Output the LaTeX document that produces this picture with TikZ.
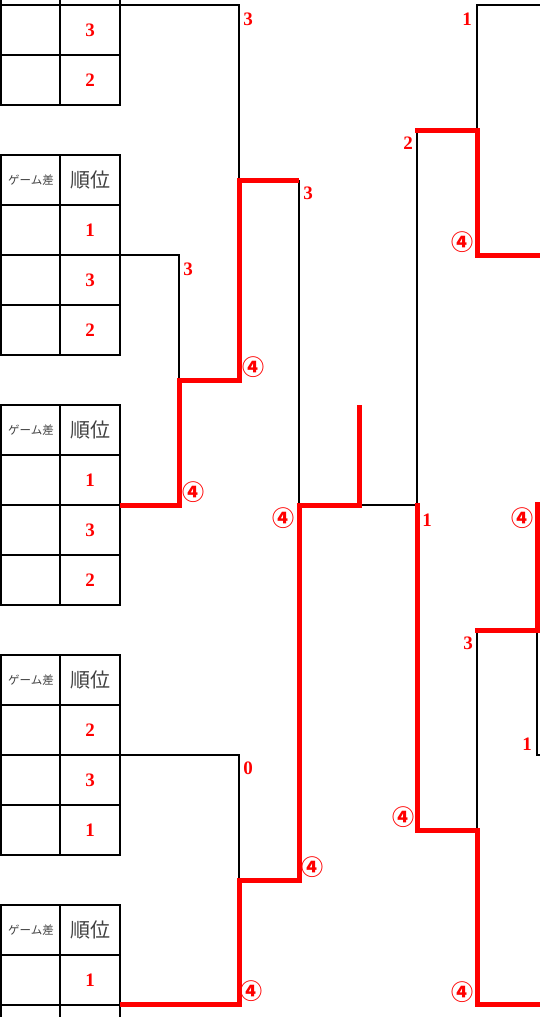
\documentclass[tikz,border=0pt]{standalone}
\usepackage{fontspec}
\setmainfont{Liberation Serif}
\newfontfamily\jpfont{Noto Sans CJK JP}
\definecolor{hdrgray}{HTML}{404040}
\tikzset{
  grid/.style={line width=1.8pt, black},
  bline/.style={line width=1.6pt, black},
  rline/.style={line width=5pt, red, line join=miter},
  rank/.style={text=red, font=\fontsize{19}{19}\selectfont\bfseries, inner sep=0pt},
  lbl/.style={text=red, font=\fontsize{19}{19}\selectfont\bfseries, inner sep=0pt},
  circ/.style={text=red, font=\jpfont\bfseries\fontsize{22}{22}\selectfont, inner sep=0pt},
  hdrsmall/.style={text=hdrgray, font=\jpfont\fontsize{11.5}{12}\selectfont, inner sep=0pt},
  hdrbig/.style={text=hdrgray, font=\jpfont\fontsize{20}{20}\selectfont, inner sep=0pt},
}
\newcommand\ranktab[5]{%
  \draw[grid] (1,#2) rectangle (120,#2+200);
  \draw[grid] (60,#2) -- (60,#2+200);
  \foreach \k in {1,2,3} {\draw[grid] (1,#2+50*\k) -- (120,#2+50*\k);}
  \node[hdrsmall] (#1h1) at (31,#2+25) {ゲーム差};
  \node[hdrbig] (#1h2) at (90,#2+25) {順位};
  \node[rank] (#1a) at (90,#2+75) {#3};
  \node[rank] (#1b) at (90,#2+125) {#4};
  \node[rank] (#1c) at (90,#2+175) {#5};
}
\begin{document}
\begin{tikzpicture}[x=1pt,y=-1pt]
\useasboundingbox (0,0) rectangle (540,1017);
\clip (0,0) rectangle (540,1017);
\fill[white] (0,0) rectangle (540,1017);
% table 0 (partly visible)
\draw[grid] (1,-95) rectangle (120,105);
\draw[grid] (60,-95) -- (60,105);
\draw[grid] (1,5) -- (120,5);
\draw[grid] (1,55) -- (120,55);
\node[rank] (t0b) at (90,30) {3};
\node[rank] (t0c) at (90,80) {2};
% tables
\ranktab{t1}{155}{1}{3}{2}
\ranktab{t2}{405}{1}{3}{2}
\ranktab{t3}{655}{2}{3}{1}
\ranktab{t4}{905}{1}{}{}
% black bracket lines
\draw[bline] (120,5) -- (239,5) -- (239,180);
\draw[bline] (120,255) -- (179,255) -- (179,380);
\draw[bline] (299,180) -- (299,505) -- (417,505);
\draw[bline] (120,755) -- (239,755) -- (239,880);
\draw[bline] (541,5) -- (477,5) -- (477,130);
\draw[bline] (417,130) -- (417,505);
\draw[bline] (477,630) -- (477,830);
\draw[bline] (537,630) -- (537,755) -- (541,755);
% red winning paths
\draw[rline] (120,505) -- (179,505) -- (179,380) -- (239,380) -- (239,180) -- (299,180);
\draw[rline] (120,1004) -- (239,1004) -- (239,880) -- (299,880) -- (299,505) -- (359,505) -- (359,405);
\draw[rline] (415,130) -- (477,130) -- (477,255) -- (541,255);
\draw[rline] (417,503) -- (417,830) -- (477,830) -- (477,1004) -- (541,1004);
\draw[rline] (475,630) -- (537,630) -- (537,502);
% score labels
\node[lbl] (s1) at (248,19) {3};
\node[lbl] (s2) at (188,269) {3};
\node[lbl] (s3) at (308,193) {3};
\node[lbl] (s4) at (248,768) {0};
\node[lbl] (s5) at (467,19) {1};
\node[lbl] (s6) at (408,143) {2};
\node[lbl] (s7) at (427,520) {1};
\node[lbl] (s8) at (468,643) {3};
\node[lbl] (s9) at (527,744) {1};
% circled labels
\node[circ] (c1) at (193,492) {④};
\node[circ] (c2) at (253,367) {④};
\node[circ] (c3) at (462,242) {④};
\node[circ] (c4) at (283,518) {④};
\node[circ] (c5) at (522,518) {④};
\node[circ] (c6) at (403,817) {④};
\node[circ] (c7) at (312,867) {④};
\node[circ] (c8) at (462,992) {④};
\node[circ] (c9) at (251,991) {④};
\end{tikzpicture}
\end{document}
